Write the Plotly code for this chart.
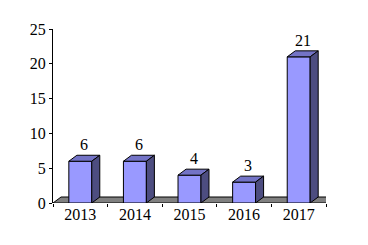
import plotly.graph_objects as go

years = ["2013", "2014", "2015", "2016", "2017"]
counts = [6, 6, 4, 3, 21]
y_ticks = [0, 5, 10, 15, 20, 25]

FRONT = "#9999FF"
TOP = "#7373C6"
SIDE = "#4D4D80"
FLOOR = "#808080"
FONT = "Liberation Serif"

W = 0.42      # bar width in category units
DX = 0.147    # depth offset (x, category units)
DY = 0.86     # depth offset (y, value units)

xs = list(range(len(years)))
fig = go.Figure()

# front faces
fig.add_trace(go.Bar(x=xs, y=counts, width=W, marker=dict(color=FRONT, line=dict(color="black", width=1)),
                     hoverinfo="skip", showlegend=False))

top_x, top_y, side_x, side_y = [], [], [], []
for i, v in zip(xs, counts):
    l, r = i - W / 2, i + W / 2
    top_x += [l, l + DX, r + DX, r, l, None]
    top_y += [v, v + DY, v + DY, v, v, None]
    side_x += [r, r + DX, r + DX, r, r, None]
    side_y += [0, DY, v + DY, v, 0, None]

fig.add_trace(go.Scatter(x=top_x, y=top_y, fill="toself", fillcolor=TOP, mode="lines",
                         line=dict(color="black", width=1), hoverinfo="skip", showlegend=False))
fig.add_trace(go.Scatter(x=side_x, y=side_y, fill="toself", fillcolor=SIDE, mode="lines",
                         line=dict(color="black", width=1), hoverinfo="skip", showlegend=False))

# value labels
for i, v in zip(xs, counts):
    fig.add_annotation(x=i + DX / 2, y=v + DY, text=str(v), showarrow=False, xref="x", yref="y",
                       yanchor="bottom", yshift=0, font=dict(family=FONT, size=16, color="black"))

# floor
x0, x1 = -0.5, len(years) - 0.5
fig.add_shape(type="path", xref="x", yref="y", layer="below",
              path=f"M {x0},0 L {x0 + DX},{DY} L {x1 + DX},{DY} L {x1},0 Z",
              fillcolor=FLOOR, line=dict(color="black", width=1))

fig.update_layout(
    width=368, height=245,
    margin=dict(l=53, r=42, t=29, b=42),
    paper_bgcolor="white", plot_bgcolor="white",
    showlegend=False,
    font=dict(family=FONT, size=16, color="black"),
)
fig.update_xaxes(range=[x0, x1], tickvals=xs, ticktext=years, ticks="", showgrid=False, zeroline=False,
                 showline=False, tickfont=dict(family=FONT, size=16),
                 minor=dict(ticks="outside", tick0=-0.5, dtick=1, ticklen=3, tickcolor="black", showgrid=False))
fig.update_yaxes(range=[0, 25], tickvals=y_ticks, ticks="outside", ticklen=3, tickcolor="black",
                 showgrid=False, zeroline=False, showline=True, linecolor="black", linewidth=1,
                 tickfont=dict(family=FONT, size=16))

fig.write_html("out.html")
